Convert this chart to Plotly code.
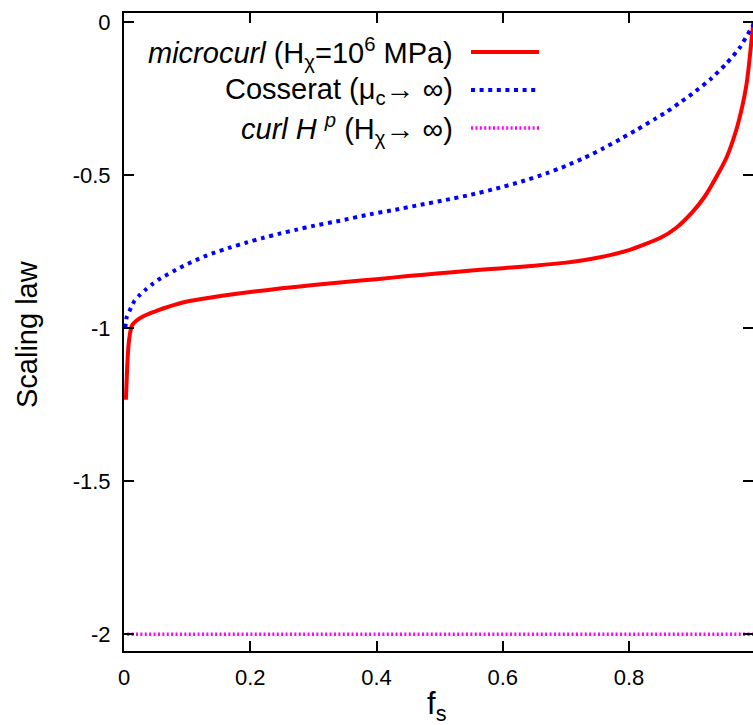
import plotly.graph_objects as go

# ---- data ----
fs_micro = [0.003, 0.005, 0.007, 0.01, 0.013, 0.02, 0.03, 0.042, 0.05, 0.063, 0.08, 0.1, 0.125,
            0.15, 0.2, 0.25, 0.3, 0.35, 0.4, 0.45, 0.5, 0.55, 0.6, 0.65, 0.7, 0.75, 0.8, 0.85,
            0.875, 0.9, 0.92, 0.94, 0.955, 0.97, 0.98, 0.986, 0.99, 0.994, 0.997]
law_micro = [-1.234, -1.13, -1.06, -1.012, -0.99, -0.975, -0.962, -0.951, -0.945, -0.935,
             -0.924, -0.913, -0.904, -0.896, -0.882, -0.870, -0.859, -0.849, -0.840, -0.830,
             -0.821, -0.812, -0.804, -0.796, -0.786, -0.770, -0.745, -0.705, -0.672, -0.622,
             -0.570, -0.500, -0.440, -0.352, -0.27, -0.205, -0.14, -0.06, 0.0]

fs_coss = [0.002, 0.0043, 0.0095, 0.016, 0.024, 0.034, 0.045, 0.055, 0.068, 0.079, 0.091, 0.103,
           0.115, 0.127, 0.14, 0.166, 0.193, 0.219, 0.245, 0.272, 0.3, 0.34, 0.39, 0.43, 0.47,
           0.51, 0.55, 0.59, 0.63, 0.67, 0.7, 0.73, 0.76, 0.79, 0.81, 0.84, 0.86, 0.88, 0.9,
           0.93, 0.955, 0.975, 0.993, 1.0]
law_coss = [-1.0, -0.964, -0.94, -0.913, -0.894, -0.875, -0.856, -0.841, -0.826, -0.813, -0.800,
            -0.788, -0.777, -0.766, -0.756, -0.738, -0.721, -0.706, -0.692, -0.679, -0.666,
            -0.650, -0.628, -0.613, -0.597, -0.581, -0.564, -0.544, -0.521, -0.494, -0.47,
            -0.443, -0.412, -0.378, -0.355, -0.318, -0.293, -0.264, -0.235, -0.185, -0.134,
            -0.085, -0.023, 0.0]

fs_curl = [0.005, 1.0]
law_curl = [-2.0, -2.0]

x_ticks = [0, 0.2, 0.4, 0.6, 0.8, 1]
x_tick_labels = ["0", "0.2", "0.4", "0.6", "0.8", "1"]
y_ticks = [0, -0.5, -1, -1.5, -2]
y_tick_labels = ["0", "-0.5", "-1", "-1.5", "-2"]

legend_labels = [
    "<i>microcurl</i> (H<sub>χ</sub>=10<sup>6</sup> MPa)",
    "Cosserat (μ<sub>c</sub>→ ∞)",
    "<i>curl H <sup>p</sup></i> (H<sub>χ</sub>→ ∞)",
]
x_title = "f<sub>s</sub>"
y_title = "Scaling law"

# ---- styling ----
FONT = "Liberation Sans, Arial, Helvetica, sans-serif"
W, H = 753, 725
ML, MR, MT, MB = 124, 0, 13, 74
PW, PH = W - ML - MR, H - MT - MB
X_RANGE = [0, 0.9964]
Y_RANGE = [-2.0546, 0.0294]

styles = [
    dict(color="#ff0000", width=4, dash="solid"),
    dict(color="#0000ff", width=4, dash="4px,4.6px"),
    dict(color="#ff00ff", width=3.5, dash="2px,2.4px"),
]

fig = go.Figure()
fig.add_trace(go.Scatter(x=fs_micro, y=law_micro, mode="lines",
                         line=dict(**styles[0], shape="spline", smoothing=0.6), showlegend=False))
fig.add_trace(go.Scatter(x=fs_coss, y=law_coss, mode="lines",
                         line=dict(**styles[1], shape="spline", smoothing=0.6), showlegend=False))
fig.add_trace(go.Scatter(x=fs_curl, y=law_curl, mode="lines", line=dict(**styles[2]), yaxis="y2",
                         showlegend=False))


def px_x(p):
    return (p - ML) / PW


def px_y(p):
    return (H - MB - p) / PH


annotations = []
shapes = []
row_y = [52, 90, 128]
for lab, st, ry in zip(legend_labels, styles, row_y):
    annotations.append(dict(text=lab, xref="paper", yref="paper", x=px_x(455), y=px_y(ry + 1),
                            xanchor="right", yanchor="middle", showarrow=False,
                            font=dict(family=FONT, size=29, color="black")))
    shapes.append(dict(type="line", xref="paper", yref="paper", x0=px_x(471), x1=px_x(539),
                       y0=px_y(ry), y1=px_y(ry),
                       line=dict(color=st["color"], width=st["width"], dash=st["dash"])))

# axis titles
annotations.append(dict(text=y_title, xref="paper", yref="paper", x=px_x(27), y=px_y(334),
                        xanchor="center", yanchor="middle", textangle=-90, showarrow=False,
                        font=dict(family=FONT, size=29, color="black")))
annotations.append(dict(text=x_title, xref="paper", yref="paper", x=px_x(437), y=px_y(684),
                        xanchor="center", yanchor="top", showarrow=False,
                        font=dict(family=FONT, size=31, color="black")))
# tick label for 1 sits just past the window edge
annotations.append(dict(text=x_tick_labels[-1], xref="paper", yref="paper",
                        x=(x_ticks[-1] - X_RANGE[0]) / (X_RANGE[1] - X_RANGE[0]) + 0.004,
                        y=px_y(663), xanchor="center", yanchor="top", showarrow=False,
                        font=dict(family=FONT, size=22, color="black")))

axis_common = dict(ticks="inside", ticklen=10, tickwidth=1.5, tickcolor="black",
                   showgrid=False, zeroline=False,
                   tickfont=dict(family=FONT, size=22, color="black"))

fig.update_layout(
    width=W, height=H,
    margin=dict(l=ML, r=MR, t=MT, b=MB, pad=0),
    paper_bgcolor="white", plot_bgcolor="white",
    showlegend=False,
    xaxis=dict(range=X_RANGE, tickvals=x_ticks, ticktext=x_tick_labels,
               showline=True, linewidth=2, linecolor="black", mirror="ticks",
               ticklabelstandoff=6, **axis_common),
    yaxis=dict(range=Y_RANGE, tickvals=y_ticks, ticktext=y_tick_labels,
               showline=True, linewidth=2, linecolor="black", mirror=False,
               ticklabelstandoff=7, **axis_common),
    yaxis2=dict(range=Y_RANGE, tickvals=y_ticks, overlaying="y", side="right", anchor="x",
                showline=False, showticklabels=False, **axis_common),
    annotations=annotations,
    shapes=shapes,
)

fig.write_html("out.html", config={"displayModeBar": False},
               post_script="document.body.style.margin='0';document.body.style.overflow='hidden';")
